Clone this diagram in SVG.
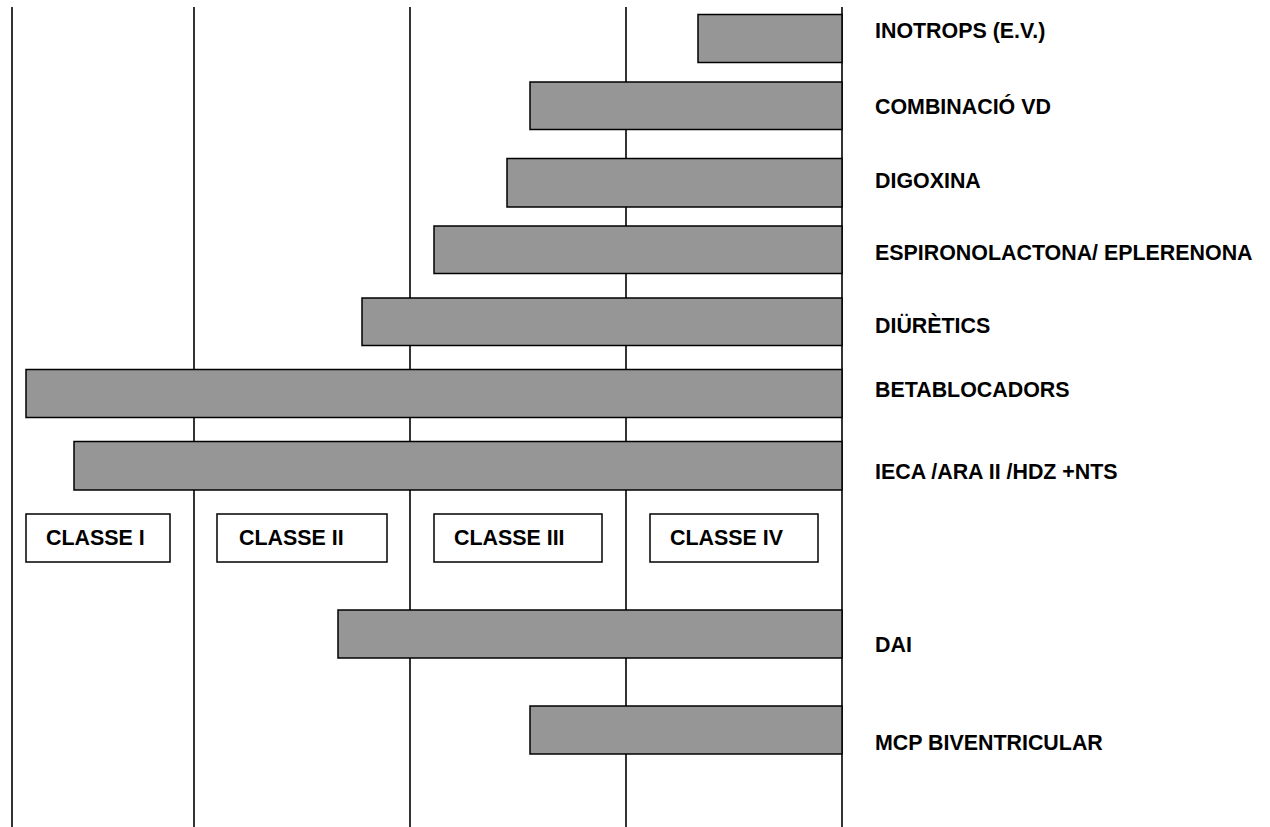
<svg xmlns="http://www.w3.org/2000/svg" width="1270" height="827" viewBox="0 0 1270 827">
<style>
.grid{stroke:#000;stroke-width:1.6;fill:none}
.bar{fill:#969696;stroke:#000;stroke-width:1.5}
.box{fill:#fff;stroke:#000;stroke-width:1.5}
text{font-family:"Liberation Sans",Arial,sans-serif;font-weight:bold;font-size:21.4px;fill:#000}
</style>
<rect width="1270" height="827" fill="#fff"/>
<g id="connectors">
<line class="grid" x1="12" y1="7" x2="12" y2="827"/>
<line class="grid" x1="194" y1="7" x2="194" y2="827"/>
<line class="grid" x1="410" y1="7" x2="410" y2="827"/>
<line class="grid" x1="626" y1="7" x2="626" y2="827"/>
<line class="grid" x1="842" y1="7" x2="842" y2="827"/>
</g>
<g id="inotrops"><rect class="bar" x="698" y="14.5" width="144" height="48"/><text x="875" y="38">INOTROPS (E.V.)</text></g>
<g id="combinacio"><rect class="bar" x="530" y="82" width="312" height="47.5"/><text x="875" y="114">COMBINACIÓ VD</text></g>
<g id="digoxina"><rect class="bar" x="507" y="158.5" width="335" height="48.5"/><text x="875" y="188">DIGOXINA</text></g>
<g id="espironolactona"><rect class="bar" x="434" y="226" width="408" height="47.5"/><text x="875" y="260">ESPIRONOLACTONA/ EPLERENONA</text></g>
<g id="diuretics"><rect class="bar" x="362" y="298" width="480" height="47.5"/><text x="875" y="333">DIÜRÈTICS</text></g>
<g id="betablocadors"><rect class="bar" x="26" y="369.5" width="816" height="48"/><text x="875" y="397">BETABLOCADORS</text></g>
<g id="ieca"><rect class="bar" x="74" y="441.5" width="768" height="48.5"/><text x="875" y="479">IECA /ARA II /HDZ +NTS</text></g>
<g id="classe1"><rect class="box" x="26" y="514" width="144" height="48"/><text x="46" y="545">CLASSE I</text></g>
<g id="classe2"><rect class="box" x="217" y="514" width="170" height="48"/><text x="239" y="545">CLASSE II</text></g>
<g id="classe3"><rect class="box" x="434" y="514" width="168" height="48"/><text x="454" y="545">CLASSE III</text></g>
<g id="classe4"><rect class="box" x="650" y="514" width="168" height="48"/><text x="670" y="545">CLASSE IV</text></g>
<g id="dai"><rect class="bar" x="338" y="610" width="504" height="48"/><text x="875" y="652">DAI</text></g>
<g id="mcp"><rect class="bar" x="530" y="706" width="312" height="48"/><text x="875" y="750">MCP BIVENTRICULAR</text></g>
</svg>
